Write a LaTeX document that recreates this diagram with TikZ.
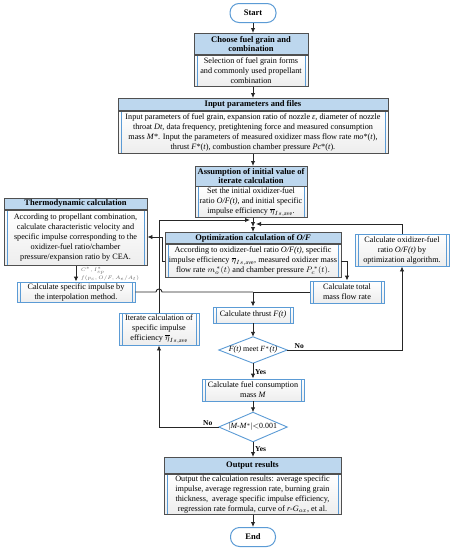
\documentclass[tikz,border=0pt]{standalone}
\usepackage{fontspec}
\setmainfont{Liberation Serif}
\usetikzlibrary{arrows.meta,calc}
\definecolor{pblue}{RGB}{91,155,213}
\definecolor{hblue}{RGB}{189,215,238}
\definecolor{frame}{RGB}{80,80,80}
\tikzset{
 every node/.style={font=\fontsize{8.2}{10}\selectfont},
 arr/.style={draw=black!85, line width=0.9pt, -{Latex[length=5pt,width=4.5pt]}},
 ln/.style={draw=black!85, line width=0.9pt},
 pp/.style={draw=pblue, line width=0.9pt, top color=white, bottom color=black!7, align=center, inner sep=0pt,
   path picture={
   \draw[pblue,line width=0.9pt] ([xshift=3pt]path picture bounding box.north west) -- ([xshift=3pt]path picture bounding box.south west);
   \draw[pblue,line width=0.9pt] ([xshift=-3pt]path picture bounding box.north east) -- ([xshift=-3pt]path picture bounding box.south east);}},
 ppf/.style={pp, draw=frame},
 hdr/.style={draw=frame, line width=0.9pt, fill=hblue, align=center, inner sep=0pt, font=\fontsize{8.5}{9.2}\selectfont\bfseries},
 diabox/.style={inner sep=0pt, align=center, font=\fontsize{7.9}{9}\selectfont},
 dialine/.style={draw=pblue, line width=0.9pt, fill=white},
 term/.style={draw=pblue, line width=1pt, fill=white, rounded corners=9pt, inner sep=0pt, font=\fontsize{8.5}{9}\selectfont\bfseries},
 lbl/.style={font=\fontsize{7.5}{8}\selectfont\bfseries, inner sep=1pt},
}
\newcommand{\etaave}{$\overline{\eta}_{Is,\mathrm{ave}}$}
\begin{document}
\begin{tikzpicture}[x=1pt,y=-1pt]
\useasboundingbox (0,0) rectangle (453,550);
% terminals
\node[term, minimum width=46pt, minimum height=19pt] (start) at (253,13) {Start};
\node[term, minimum width=45pt, minimum height=19pt] (end) at (253,537) {End};
% box 1
\node[hdr, minimum width=114pt, minimum height=21pt, anchor=north] (h1) at (251,33) {Choose fuel grain and\\combination};
\node[ppf, minimum width=114pt, minimum height=31pt, anchor=north] (b1) at (h1.south) {Selection of fuel grain forms\\and commonly used propellant\\combination};
% box 2
\node[hdr, minimum width=270pt, minimum height=12pt, anchor=north] (h2) at (253,98) {Input parameters and files};
\node[ppf, minimum width=270pt, minimum height=42pt, anchor=north] (b2) at (h2.south) {Input parameters of fuel grain, expansion ratio of nozzle \textit{ε}, diameter of nozzle\\throat \textit{Dt}, data frequency, pretightening force and measured consumption\\mass \textit{M}*. Input the parameters of measured oxidizer mass flow rate \textit{mo}*(\textit{t}),\\thrust \textit{F}*(\textit{t}), combustion chamber pressure \textit{Pc}*(\textit{t}).};
% box 3
\node[hdr, minimum width=112pt, minimum height=19.5pt, anchor=north] (h3) at (251,166) {Assumption of initial value of\\iterate calculation};
\node[ppf, minimum width=112pt, minimum height=31pt, anchor=north] (b3) at (h3.south) {Set the initial oxidizer-fuel\\ratio \textit{O/F(t)}, and initial specific\\impulse efficiency \etaave.};
% thermodynamic
\node[hdr, minimum width=143pt, minimum height=11pt, anchor=north] (ht) at (75.5,198) {Thermodynamic calculation};
\node[ppf, minimum width=143pt, minimum height=55pt, anchor=north] (bt) at (ht.south) {According to propellant combination,\\calculate characteristic velocity and\\specific impulse corresponding to the\\oxidizer-fuel ratio/chamber\\pressure/expansion ratio by CEA.};
% optimization
\node[hdr, minimum width=176pt, minimum height=11pt, anchor=north] (ho) at (253,232) {Optimization calculation of \textit{O/F}};
\node[ppf, minimum width=176pt, minimum height=33pt, anchor=north] (bo) at (ho.south) {According to oxidizer-fuel ratio \textit{O/F(t)}, specific\\impulse efficiency \etaave, measured oxidizer mass\\flow rate $m_o^{\,*}(t)$ and chamber pressure $P_c^{\,*}(t)$.};
% process boxes
\node[pp, minimum width=118pt, minimum height=20pt] (spec) at (76,292) {Calculate specific impulse by\\the interpolation method.};
\node[pp, minimum width=74pt, minimum height=22pt] (total) at (347,292) {Calculate total\\mass flow rate};
\node[pp, minimum width=94pt, minimum height=32pt] (ox) at (402,250) {Calculate oxidizer-fuel\\ratio \textit{O/F(t)} by\\optimization algorithm.};
\node[pp, minimum width=80pt, minimum height=16pt] (thrust) at (253,315) {Calculate thrust \textit{F(t)}};
\node[pp, minimum width=80pt, minimum height=32pt] (iter) at (159,329) {Iterate calculation of\\specific impulse\\efficiency \etaave};
\node[pp, minimum width=102pt, minimum height=22pt] (fuel) at (253,390) {Calculate fuel consumption\\mass \textit{M}};
% diamonds
\node[diabox, minimum width=68pt, minimum height=26pt] (d1) at (253,350) {};
\draw[dialine] (d1.north) -- (d1.east) -- (d1.south) -- (d1.west) -- cycle;
\node[diabox] (d1t) at (d1) {\textit{F(t)} meet \textit{F}$^*$\textit{(t)}};
\node[diabox, minimum width=68pt, minimum height=29pt] (d2) at (253,427) {};
\draw[dialine] (d2.north) -- (d2.east) -- (d2.south) -- (d2.west) -- cycle;
\node[diabox] (d2t) at (d2) {|\textit{M-M}$^*$|$<$0.001};
% output
\node[hdr, minimum width=177pt, minimum height=16pt, anchor=north] (hout) at (252.5,457) {Output results};
\node[ppf, minimum width=177pt, minimum height=40pt, anchor=north] (bout) at (hout.south) {Output the calculation results: average specific\\impulse, average regression rate, burning grain\\thickness,\ \ average specific impulse efficiency,\\regression rate formula, curve of \textit{r-G}$_{ox}$, et al.};
% coordinates
\coordinate (mL) at (250,220);
\coordinate (mR) at (256,224);
\coordinate (mg) at (253,227);
\coordinate (j) at (253,292);
% main flow
\draw[arr] (start.south) -- (start.south |- h1.north);
\draw[arr] (b1.south -| start) -- (start |- h2.north);
\draw[arr] (b2.south -| start) -- (start |- h3.north);
\draw[arr] (b3.south -| start) -- (mg);
\draw[arr] (mg) -- (ho.north);
\draw[arr] (iter.north) |- (mL);
\draw[arr] (ox.north) |- (mR);
\draw[arr] (bo.west |- 0,261) -- (162,261) |- (bt.east |- 0,237);
\draw[arr] (bo.east |- 0,261) -| (total.north);
\draw[arr] (bt.south -| spec) -- (spec.north) node[midway, right=1pt, align=left, font=\fontsize{3.8}{4.2}\selectfont, text=black!60] (cl) {$C^*, I_{sp}^*$\\$f(p_c, O/F, A_e/A_t)$};
\draw[ln] (spec.east) -- (156,292) .. controls (156,288) and (162,288) .. (162,292) -- (j);
\draw[ln] (total.west) -- (j);
\draw[arr] (j) -- (thrust.north);
\draw[arr] (thrust.south) -- (d1.north);
\draw[arr] (d1.east) -| (ox.south);
\draw[arr] (d1.south) -- (fuel.north);
\draw[arr] (fuel.south) -- (d2.north);
\draw[arr] (d2.west) -| (iter.south);
\draw[arr] (d2.south) -- (hout.north -| d2);
\draw[arr] (bout.south -| end) -- (end.north);
% labels
\node[lbl, above] (no1) at ($(d1.east)+(12,0)$) {No};
\node[lbl, right] (yes1) at ($(d1.south)+(1,9)$) {Yes};
\node[lbl, above] (no2) at ($(d2.west)+(-11,0)$) {No};
\node[lbl, right] (yes2) at ($(d2.south)+(1,7)$) {Yes};
\end{tikzpicture}
\end{document}
